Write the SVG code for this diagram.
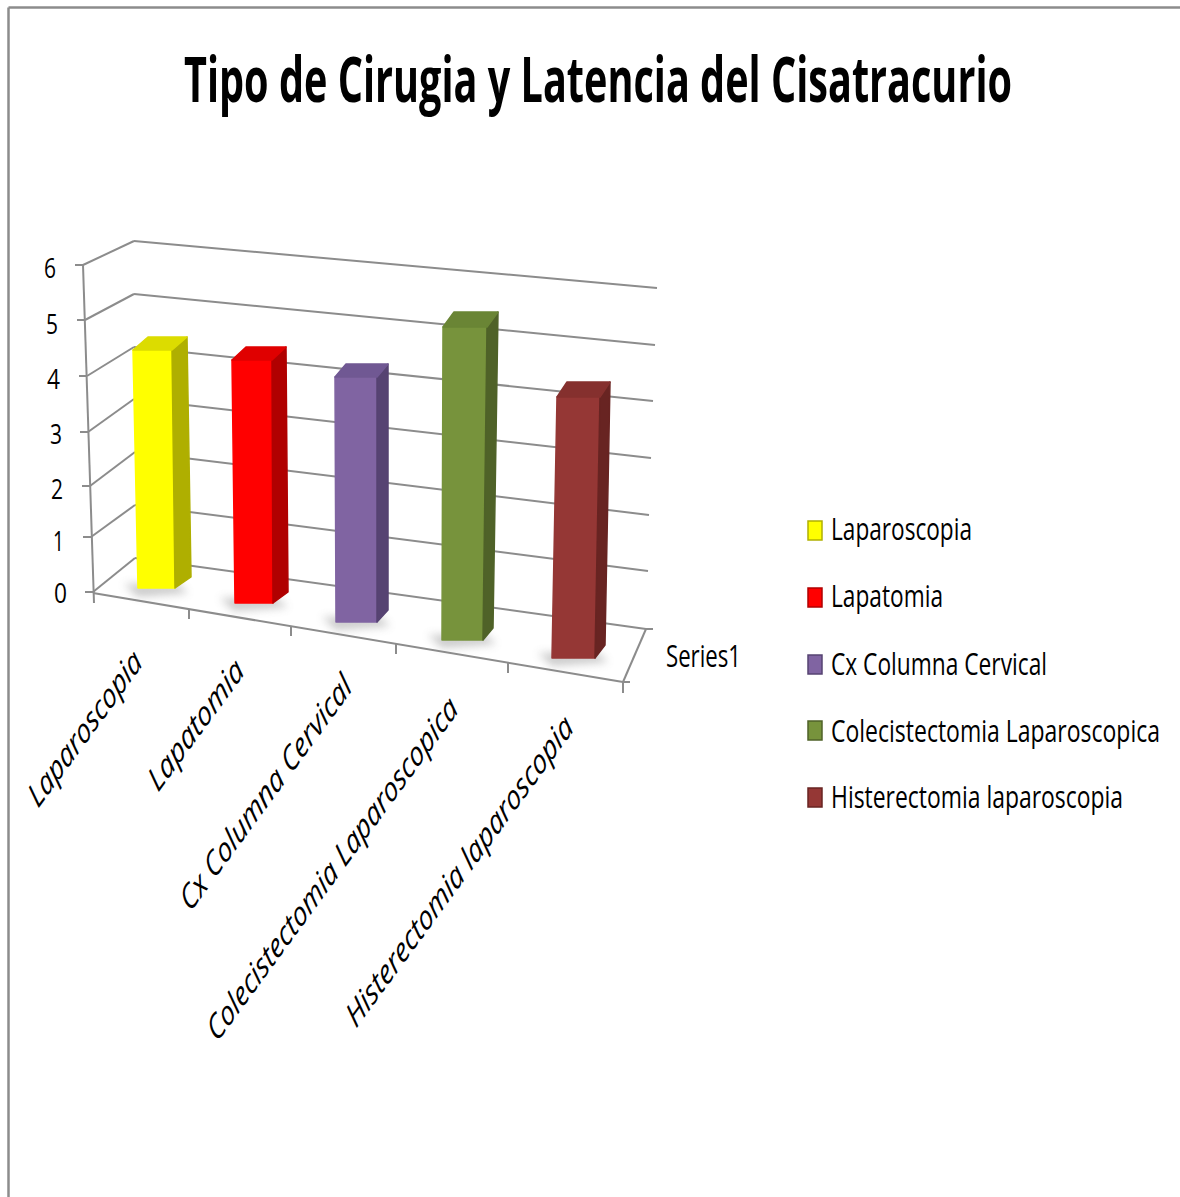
<svg xmlns="http://www.w3.org/2000/svg" width="1180" height="1197" viewBox="0 0 1180 1197">
<defs>
<style>
.grid{stroke:#8c8c8c;stroke-width:2;fill:none}
.tick{stroke:#8c8c8c;stroke-width:2;fill:none}
.lbl{font-family:"Open Sans","Liberation Sans",sans-serif;font-size:31px;fill:#000}
.ylbl{font-family:"Open Sans","Liberation Sans",sans-serif;font-size:28px;fill:#000;text-anchor:end}
.cat{font-family:"Open Sans","Liberation Sans",sans-serif;font-size:34px;font-style:italic;fill:#000}
.title{font-family:"Open Sans","Liberation Sans",sans-serif;font-size:62px;font-weight:bold;fill:#000}
.shadow{fill:#8a8a8a;opacity:0.45;filter:url(#blur)}
.bar polygon{stroke-linejoin:round;stroke-width:1.5}
</style>
<filter id="blur" x="-50%" y="-100%" width="200%" height="300%"><feGaussianBlur stdDeviation="4"/></filter>
</defs>
<rect x="0" y="0" width="1180" height="1197" fill="#fff"/>
<g id="frame">
<line x1="8.5" y1="7.5" x2="1180" y2="7.5" stroke="#8c8c8c" stroke-width="2.5"/>
<line x1="8.5" y1="7.5" x2="8.5" y2="1197" stroke="#8c8c8c" stroke-width="2.5"/>
</g>
<g id="title"><text class="title" x="184" y="102" textLength="828" lengthAdjust="spacingAndGlyphs">Tipo de Cirugia y Latencia del Cisatracurio</text></g>
<g id="connectors">
<line class="grid" x1="134" y1="241" x2="657" y2="288"/>
<line class="grid" x1="134" y1="294" x2="655" y2="345"/>
<line class="grid" x1="134" y1="347" x2="653" y2="401"/>
<line class="grid" x1="134" y1="399" x2="651" y2="458"/>
<line class="grid" x1="135" y1="452" x2="649" y2="515"/>
<line class="grid" x1="135" y1="505" x2="648" y2="571"/>
<line class="grid" x1="135" y1="558" x2="646" y2="629"/>
<line class="grid" x1="83" y1="265" x2="134" y2="241"/>
<line class="grid" x1="85" y1="320" x2="134" y2="294"/>
<line class="grid" x1="87" y1="376" x2="134" y2="347"/>
<line class="grid" x1="88" y1="432" x2="134" y2="399"/>
<line class="grid" x1="90" y1="486" x2="135" y2="452"/>
<line class="grid" x1="91" y1="537" x2="135" y2="505"/>
<line class="grid" x1="93" y1="592" x2="135" y2="558"/>
<line class="tick" x1="83" y1="265" x2="94" y2="603"/>
<line class="tick" x1="75" y1="265" x2="83" y2="265"/>
<line class="tick" x1="77" y1="320" x2="85" y2="320"/>
<line class="tick" x1="79" y1="376" x2="87" y2="376"/>
<line class="tick" x1="80" y1="432" x2="88" y2="432"/>
<line class="tick" x1="82" y1="486" x2="90" y2="486"/>
<line class="tick" x1="83" y1="537" x2="91" y2="537"/>
<line class="tick" x1="85" y1="592" x2="93" y2="592"/>
<line class="tick" x1="93" y1="593" x2="623" y2="682"/>
<line class="tick" x1="189" y1="609" x2="189" y2="619"/>
<line class="tick" x1="291" y1="626" x2="291" y2="636"/>
<line class="tick" x1="396" y1="644" x2="396" y2="654"/>
<line class="tick" x1="508" y1="663" x2="508" y2="673"/>
<line class="tick" x1="623" y1="682" x2="623" y2="693"/>
<line class="tick" x1="623" y1="682" x2="646" y2="629"/>
<line class="tick" x1="646" y1="629" x2="653" y2="629"/>
<line class="tick" x1="623" y1="682" x2="630" y2="682"/>
</g>
<g id="yaxis-labels">
<text class="ylbl" x="56" y="278" textLength="12" lengthAdjust="spacingAndGlyphs">6</text>
<text class="ylbl" x="58" y="334" textLength="12" lengthAdjust="spacingAndGlyphs">5</text>
<text class="ylbl" x="60" y="389" textLength="13" lengthAdjust="spacingAndGlyphs">4</text>
<text class="ylbl" x="62" y="444" textLength="12" lengthAdjust="spacingAndGlyphs">3</text>
<text class="ylbl" x="63" y="499" textLength="12" lengthAdjust="spacingAndGlyphs">2</text>
<text class="ylbl" x="64" y="551" textLength="11" lengthAdjust="spacingAndGlyphs">1</text>
<text class="ylbl" x="67" y="603" textLength="13" lengthAdjust="spacingAndGlyphs">0</text>
</g>
<g id="bar-laparoscopia" class="bar">
<polygon class="shadow" points="124,584 178,584 188,593 138,597"/>
<polygon points="133,350 172,350 175,588 138,588" fill="#ffff00" stroke="#ffff00"/>
<polygon points="172,350 187,337 191,577 175,588" fill="#afaf00" stroke="#afaf00"/>
<polygon points="133,350 172,350 187,337 148,337" fill="#dcdc00" stroke="#dcdc00"/>
</g>
<g id="bar-lapatomia" class="bar">
<polygon class="shadow" points="220,598 276,598 288,607 234,611"/>
<polygon points="232,360 272,360 273,603 235,603" fill="#ff0000" stroke="#ff0000"/>
<polygon points="272,360 286,347 288,592 273,603" fill="#b00000" stroke="#b00000"/>
<polygon points="232,360 272,360 286,347 246,347" fill="#e00000" stroke="#e00000"/>
</g>
<g id="bar-cx-columna-cervical" class="bar">
<polygon class="shadow" points="322,617 380,617 390,626 336,630"/>
<polygon points="335,377 377,377 377,622 336,622" fill="#8064a2" stroke="#8064a2"/>
<polygon points="377,377 388,364 388,610 377,622" fill="#564372" stroke="#564372"/>
<polygon points="335,377 377,377 388,364 346,364" fill="#705893" stroke="#705893"/>
</g>
<g id="bar-colecistectomia" class="bar">
<polygon class="shadow" points="428,635 486,635 496,644 442,648"/>
<polygon points="443,327 487,327 483,640 442,640" fill="#77933c" stroke="#77933c"/>
<polygon points="487,327 498,312 493,628 483,640" fill="#4f6228" stroke="#4f6228"/>
<polygon points="443,327 487,327 498,312 454,312" fill="#6a8535" stroke="#6a8535"/>
</g>
<g id="bar-histerectomia" class="bar">
<polygon class="shadow" points="538,653 598,653 608,662 552,666"/>
<polygon points="557,397 600,397 595,658 552,658" fill="#953735" stroke="#953735"/>
<polygon points="600,397 610,382 605,645 595,658" fill="#682422" stroke="#682422"/>
<polygon points="557,397 600,397 610,382 567,382" fill="#85302e" stroke="#85302e"/>
</g>
<g id="category-labels">
<text class="cat" transform="translate(38,809) scale(0.73,1) rotate(-45)" textLength="205" lengthAdjust="spacingAndGlyphs">Laparoscopia</text>
<text class="cat" transform="translate(158,793) scale(0.73,1) rotate(-45)" textLength="170" lengthAdjust="spacingAndGlyphs">Lapatomia</text>
<text class="cat" transform="translate(190,913) scale(0.73,1) rotate(-45)" textLength="317" lengthAdjust="spacingAndGlyphs">Cx Columna Cervical</text>
<text class="cat" transform="translate(217,1043) scale(0.73,1) rotate(-45)" textLength="470" lengthAdjust="spacingAndGlyphs">Colecistectomia Laparoscopica</text>
<text class="cat" transform="translate(356,1029) scale(0.73,1) rotate(-45)" textLength="424" lengthAdjust="spacingAndGlyphs">Histerectomia laparoscopia</text>
</g>
<g id="series-label"><text class="lbl" x="666" y="667" textLength="75" lengthAdjust="spacingAndGlyphs">Series1</text></g>
<g id="legend">
<g id="legend-laparoscopia">
<rect x="808" y="521" width="14" height="19" fill="#ffff00" stroke="#b0b000" stroke-width="1.5"/>
<text class="lbl" x="831" y="540" textLength="141" lengthAdjust="spacingAndGlyphs">Laparoscopia</text>
</g>
<g id="legend-lapatomia">
<rect x="808" y="588" width="14" height="19" fill="#ff0000" stroke="#b00000" stroke-width="1.5"/>
<text class="lbl" x="831" y="607" textLength="112" lengthAdjust="spacingAndGlyphs">Lapatomia</text>
</g>
<g id="legend-cx">
<rect x="808" y="655" width="14" height="19" fill="#8064a2" stroke="#564372" stroke-width="1.5"/>
<text class="lbl" x="831" y="675" textLength="216" lengthAdjust="spacingAndGlyphs">Cx Columna Cervical</text>
</g>
<g id="legend-colecistectomia">
<rect x="808" y="721" width="14" height="19" fill="#77933c" stroke="#4f6228" stroke-width="1.5"/>
<text class="lbl" x="831" y="742" textLength="329" lengthAdjust="spacingAndGlyphs">Colecistectomia Laparoscopica</text>
</g>
<g id="legend-histerectomia">
<rect x="808" y="788" width="14" height="19" fill="#953735" stroke="#682422" stroke-width="1.5"/>
<text class="lbl" x="831" y="808" textLength="292" lengthAdjust="spacingAndGlyphs">Histerectomia laparoscopia</text>
</g>
</g>
</svg>
